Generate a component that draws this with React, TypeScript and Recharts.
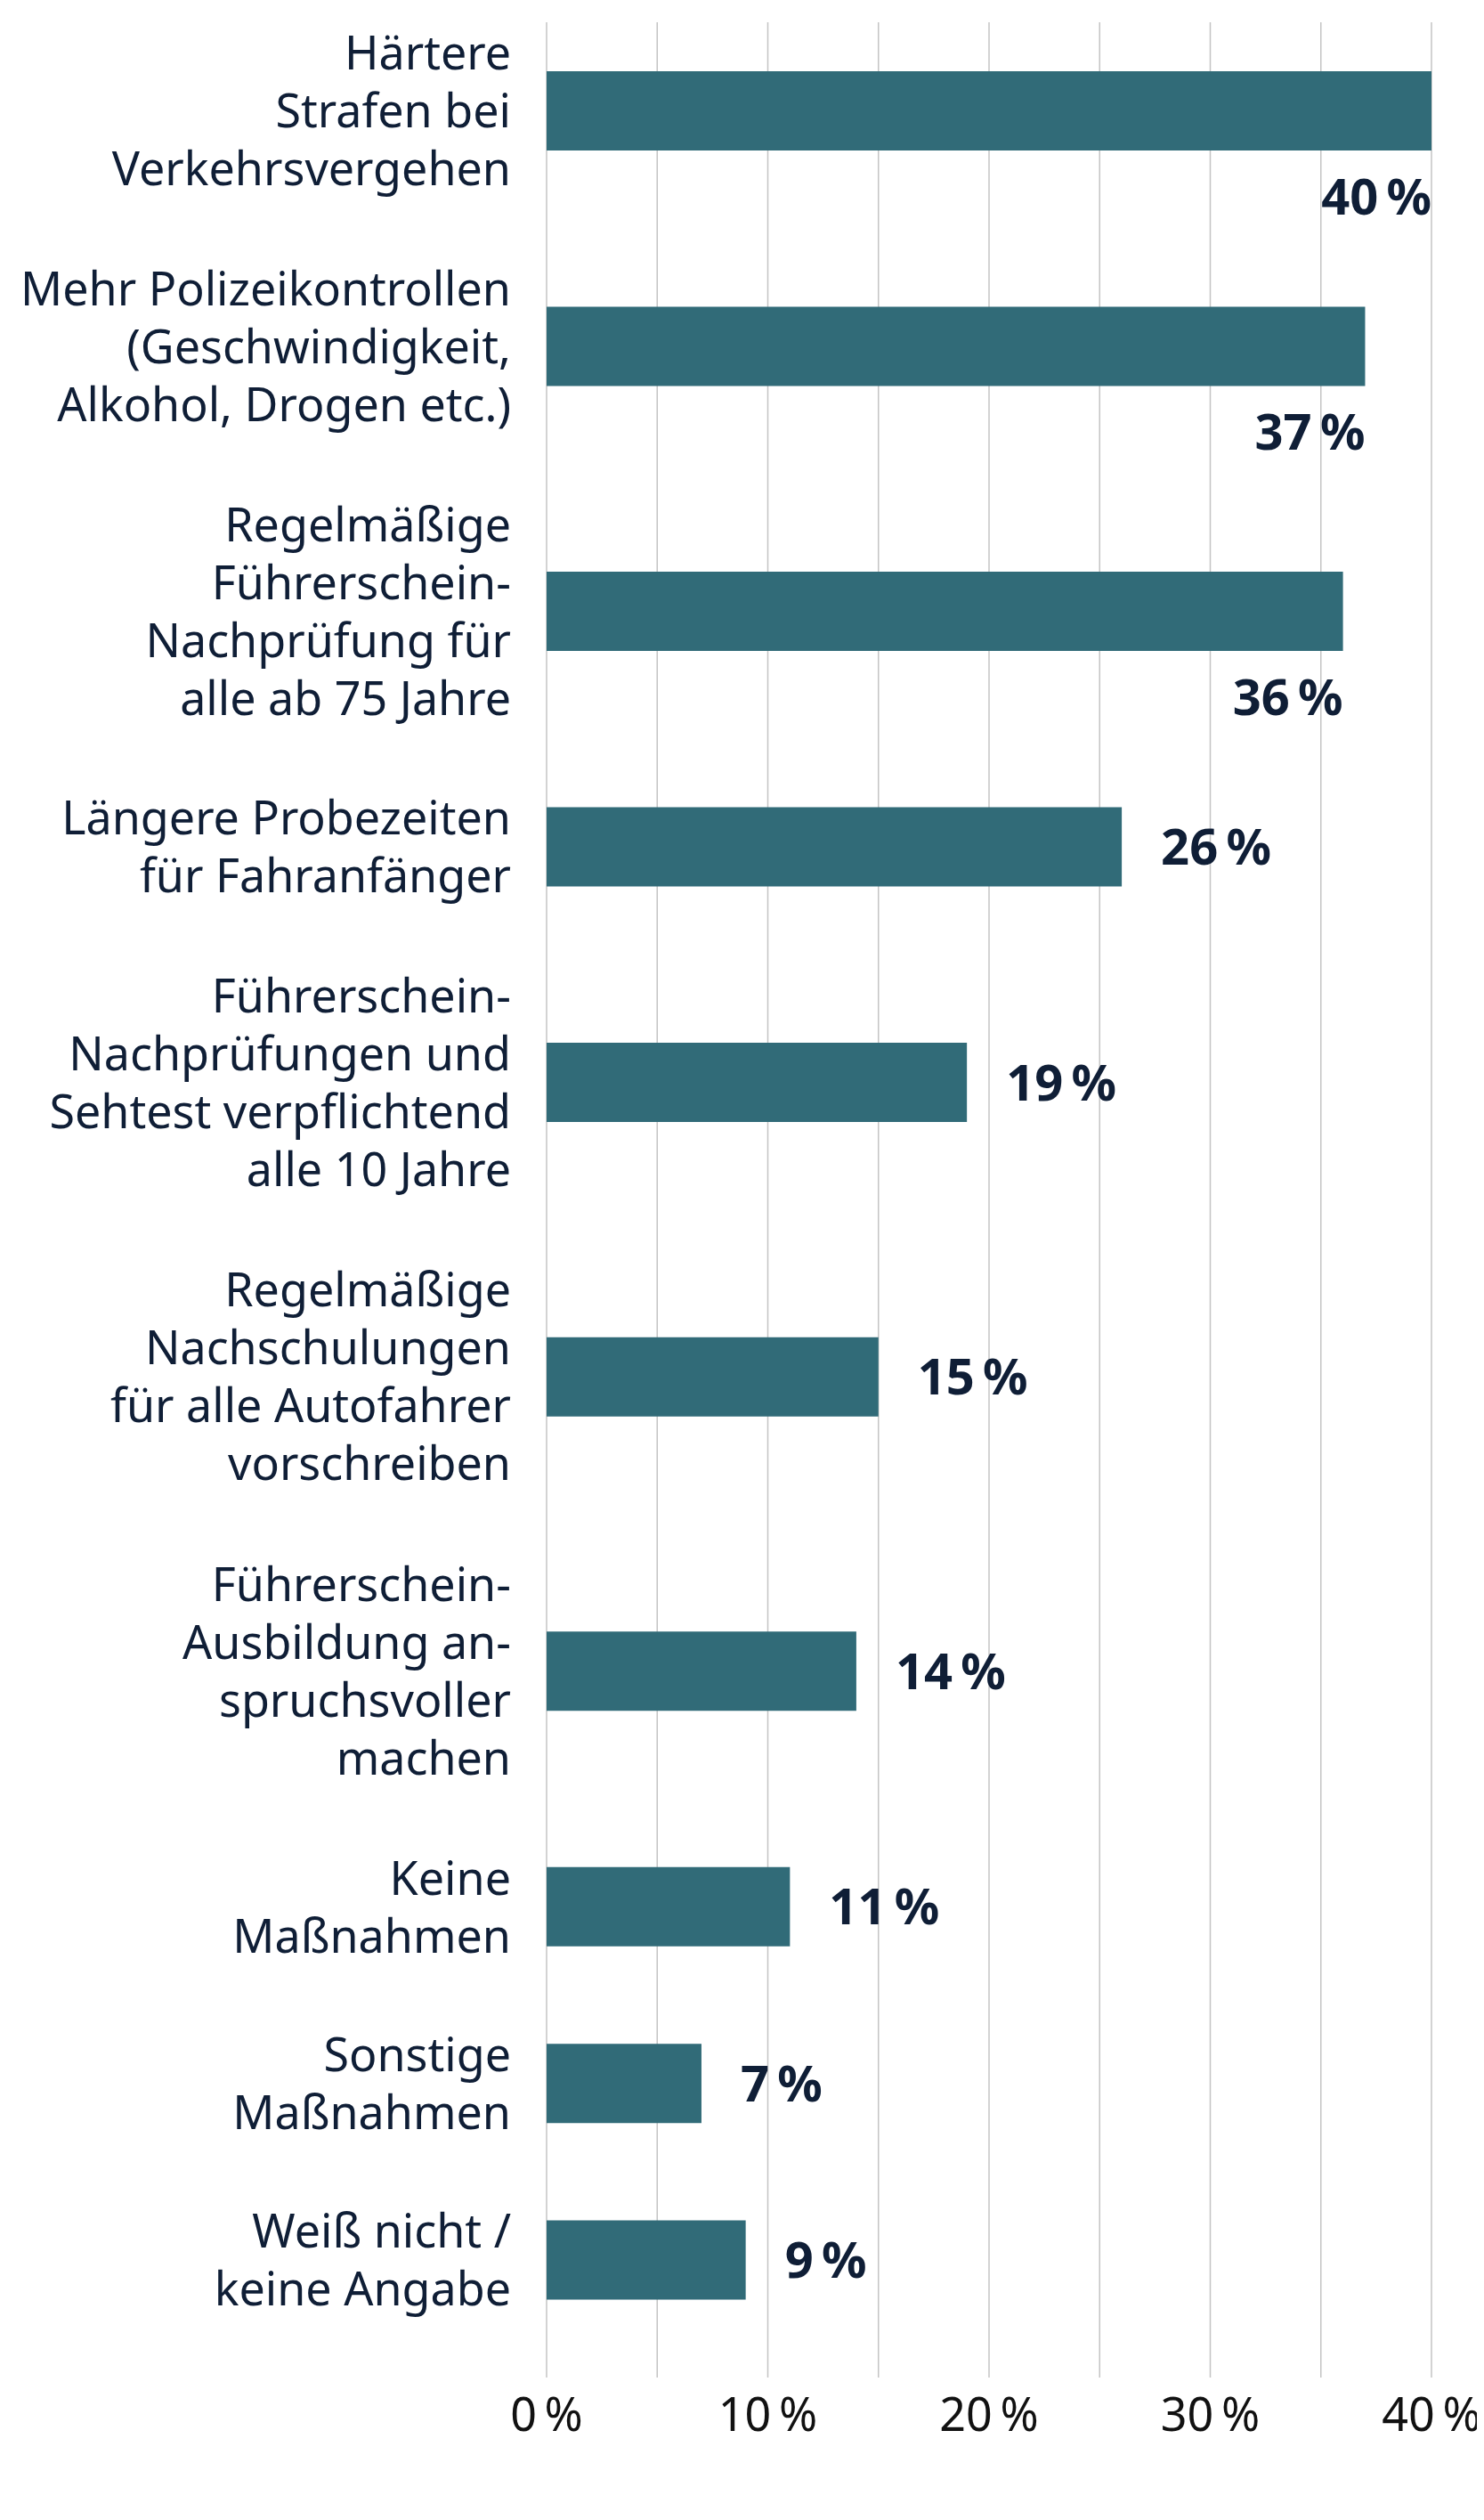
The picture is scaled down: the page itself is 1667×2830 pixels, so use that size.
import React from "react";
import { BarChart, Bar, XAxis, YAxis, CartesianGrid, LabelList } from "recharts";

const categories = [
  "Härtere\nStrafen bei\nVerkehrsvergehen",
  "Mehr Polizeikontrollen\n(Geschwindigkeit,\nAlkohol, Drogen etc.)",
  "Regelmäßige\nFührerschein-\nNachprüfung für\nalle ab 75 Jahre",
  "Längere Probezeiten\nfür Fahranfänger",
  "Führerschein-\nNachprüfungen und\nSehtest verpflichtend\nalle 10 Jahre",
  "Regelmäßige\nNachschulungen\nfür alle Autofahrer\nvorschreiben",
  "Führerschein-\nAusbildung an-\nspruchsvoller\nmachen",
  "Keine\nMaßnahmen",
  "Sonstige\nMaßnahmen",
  "Weiß nicht /\nkeine Angabe",
];

const values = [40, 37, 36, 26, 19, 15, 14, 11, 7, 9];

const xTicks = [0, 5, 10, 15, 20, 25, 30, 35, 40];

// rows get more room when their label has more lines
const ROW_GAP = 1;
const lineCounts = categories.map((c) => c.split("\n").length);
const rowPos: number[] = [];
lineCounts.forEach((n, i) => {
  rowPos.push(i === 0 ? 0 : rowPos[i - 1] + (lineCounts[i - 1] + n) / 2 + ROW_GAP);
});

const data = categories.map((name, i) => ({ name, value: values[i], pos: rowPos[i] }));

const WIDTH = 1659;
const HEIGHT = 2814;
const MARGIN = { top: 17, right: 59, left: 0, bottom: 0 };
const FONT = "'Noto Sans', Roboto, sans-serif";
const TEXT = "#0f1e36";
const BAR = "#316b78";
const LINE_H = 65;
const LABEL_SIZE = 52;
const VALUE_SIZE = 56;

const CategoryTick = (props: any) => {
  const { x, y, index } = props;
  const lines = categories[index] ? categories[index].split("\n") : [];
  const startDy = -((lines.length - 1) * LINE_H) / 2;
  return (
    <text x={x} y={y} textAnchor="end" fill={TEXT} fontSize={LABEL_SIZE} fontFamily={FONT}>
      {lines.map((l, i) => (
        <tspan key={i} x={x} dy={i === 0 ? startDy + 19 : LINE_H}>
          {l}
        </tspan>
      ))}
    </text>
  );
};

const ValueLabel = (props: any) => {
  const { x, y, width, height, value } = props;
  const label = `${value}\u2009%`;
  const end = x + width;
  const estW = VALUE_SIZE * 2.2;
  const cy = y + height / 2;
  if (end + 44 + estW > WIDTH) {
    return (
      <text x={end} y={cy + 96} dy="0.36em" textAnchor="end" fill={TEXT} fontSize={VALUE_SIZE} fontWeight={700} fontFamily={FONT}>
        {label}
      </text>
    );
  }
  return (
    <text x={end + 44} y={cy} dy="0.36em" textAnchor="start" fill={TEXT} fontSize={VALUE_SIZE} fontWeight={700} fontFamily={FONT}>
      {label}
    </text>
  );
};

export default function App() {
  const last = rowPos[rowPos.length - 1];
  return (
    <div style={{ width: WIDTH, height: HEIGHT, background: "#fff" }}>
      <BarChart width={WIDTH} height={HEIGHT} data={data} layout="vertical" margin={MARGIN}>
        <CartesianGrid horizontal={false} stroke="#c4c4c4" strokeWidth={1.5} />
        <XAxis
          type="number"
          dataKey="value"
          domain={[0, 40]}
          ticks={xTicks}
          interval={0}
          tickFormatter={(v: number) => (v % 10 === 0 ? `${v}\u2009%` : "")}
          axisLine={false}
          tickLine={false}
          tickSize={0}
          tickMargin={23}
          height={152}
          tick={{ fill: "#111", fontSize: LABEL_SIZE, fontFamily: FONT }}
        />
        <YAxis
          type="number"
          dataKey="pos"
          domain={[-1.5, last + 2]}
          ticks={rowPos}
          interval={0}
          width={606}
          axisLine={false}
          tickLine={false}
          tickSize={0}
          tickMargin={40}
          tick={<CategoryTick />}
        />
        <Bar dataKey="value" fill={BAR} barSize={89} isAnimationActive={false}>
          <LabelList dataKey="value" content={<ValueLabel />} />
        </Bar>
      </BarChart>
    </div>
  );
}
